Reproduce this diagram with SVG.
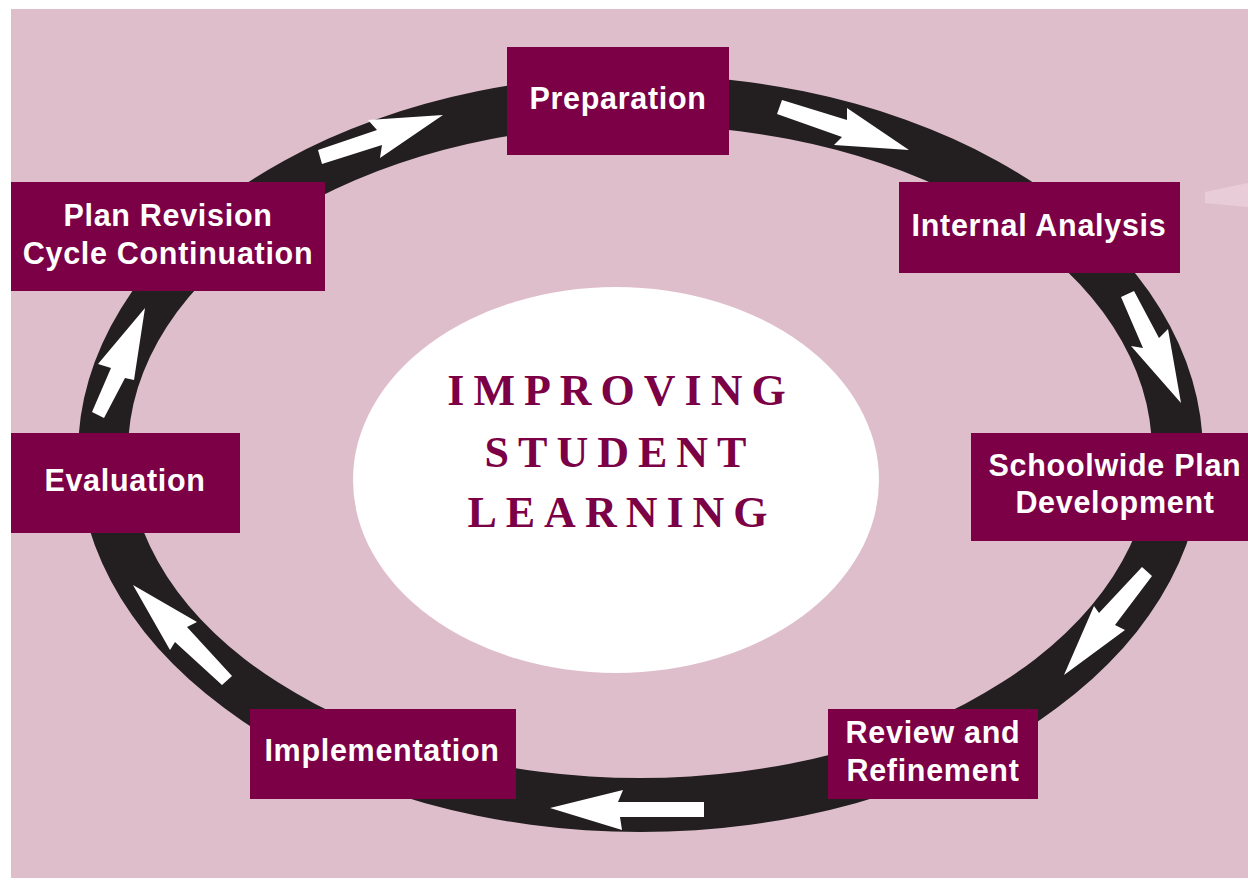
<svg xmlns="http://www.w3.org/2000/svg" width="1248" height="880" viewBox="0 0 1248 880">
  <style>
    .box { fill: #7b0046; }
    .lbl { font-family: "Liberation Sans", Arial, sans-serif; font-weight: bold; font-size: 30.5px; letter-spacing: 0.7px; fill: #ffffff; text-anchor: middle; }
    .core { font-family: "Liberation Serif", "Times New Roman", serif; font-weight: bold; font-size: 44px; letter-spacing: 9px; fill: #7b0046; text-anchor: middle; }
    .arrow { fill: #ffffff; }
  </style>

  <!-- page -->
  <rect x="0" y="0" width="1248" height="880" fill="#ffffff"/>
  <rect x="11" y="9" width="1237" height="869" fill="#dfbecc"/>
  <!-- pale wedge at right edge -->
  <polygon points="1205,192 1248,183 1248,207 1205,203" fill="#e8cdd9"/>

  <!-- cycle ring (outer minus inner ellipse) with direction arrows -->
  <g id="connectors">
    <path fill="#231f20" fill-rule="evenodd"
          d="M 78 453.5 A 562.5 378.5 0 1 0 1203 453.5 A 562.5 378.5 0 1 0 78 453.5 Z
             M 128 451.5 A 512 326.5 0 1 0 1152 451.5 A 512 326.5 0 1 0 128 451.5 Z"/>
    <polygon class="arrow" points="322,164 318,150 377,130 368,120 443,115 380,158 382,145"/>
    <polygon class="arrow" points="782,100 847,120 847,108 909,150 834,145 842,137 777,114"/>
    <polygon class="arrow" points="1121,297 1134,291 1159,338 1168,329 1181,403 1131,346 1143,348"/>
    <polygon class="arrow" points="1142,567 1152,576 1115,625 1125,630 1064,675 1094,606 1099,613"/>
    <polygon class="arrow" points="704,802 704,817 620,817 622,830 550,808 623,790 618,802"/>
    <polygon class="arrow" points="222,685 232,676 187,627 197,622 133,585 170,650 175,642"/>
    <polygon class="arrow" points="92,412 104,418 125,378 134,380 145,308 98,364 111,368"/>
  </g>

  <!-- centre -->
  <g id="center">
    <ellipse cx="616" cy="480" rx="263" ry="193" fill="#ffffff"/>
    <text class="core" x="621" y="405">IMPROVING</text>
    <text class="core" x="620" y="467">STUDENT</text>
    <text class="core" x="622" y="527">LEARNING</text>
  </g>

  <g id="preparation">
    <rect class="box" x="507" y="47" width="222" height="108"/>
    <text class="lbl" x="618" y="109">Preparation</text>
  </g>

  <g id="internal-analysis">
    <rect class="box" x="899" y="182" width="281" height="91"/>
    <text class="lbl" x="1039" y="236">Internal Analysis</text>
  </g>

  <g id="schoolwide-plan">
    <rect class="box" x="971" y="433" width="277" height="108"/>
    <text class="lbl" x="1115" y="476">Schoolwide Plan</text>
    <text class="lbl" x="1115" y="513">Development</text>
  </g>

  <g id="review">
    <rect class="box" x="828" y="709" width="210" height="90"/>
    <text class="lbl" x="933" y="743">Review and</text>
    <text class="lbl" x="933" y="781">Refinement</text>
  </g>

  <g id="implementation">
    <rect class="box" x="250" y="709" width="266" height="90"/>
    <text class="lbl" x="382" y="761">Implementation</text>
  </g>

  <g id="evaluation">
    <rect class="box" x="11" y="433" width="229" height="100"/>
    <text class="lbl" x="125" y="491">Evaluation</text>
  </g>

  <g id="plan-revision">
    <rect class="box" x="11" y="182" width="314" height="109"/>
    <text class="lbl" x="168" y="226">Plan Revision</text>
    <text class="lbl" x="168" y="264">Cycle Continuation</text>
  </g>
</svg>
